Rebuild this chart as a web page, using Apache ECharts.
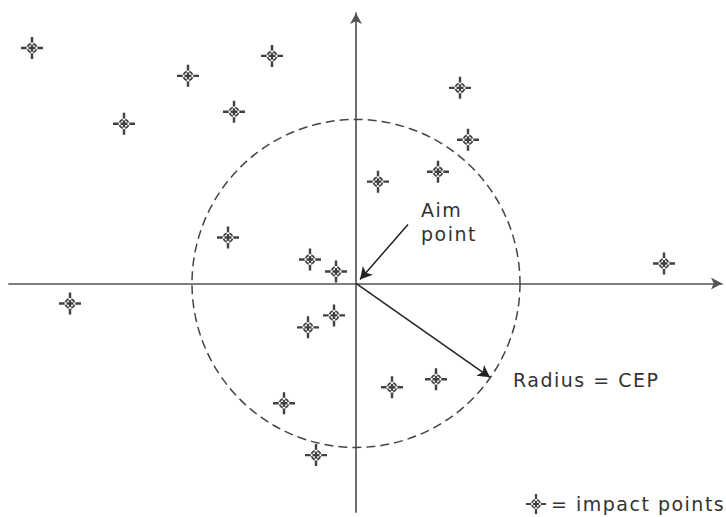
<!DOCTYPE html>
<html>
<head>
<meta charset="UTF-8">
<title>CEP</title>
<script src="https://cdn.jsdelivr.net/npm/echarts@6/dist/echarts.min.js"></script>
<style>
  html, body { margin: 0; padding: 0; background: #fff; }
  #main { width: 726px; height: 517px; }
  /* the original lettering is looser than DejaVu */
  #main text { letter-spacing: 1.5px; }
</style>
</head>
<body>
<div id="main"></div>
<script>
// impact points (arbitrary units, aim point at 0,0)
var impactX = [-81, -58, -42, -30.5, -21, 26, 28, 20.5, 5.5, -32, -11.5, -5, -5.5, -12, 77, 20, 9, -18, -10, -71.5];
var impactY = [59, 40, 52, 43, 57, 49, 36, 28, 25.5, 11.5, 6, 3, -8, -11, 5, -24, -26, -30, -43, -5];
var cep = 41;
// annotation arrows: [start, end]
var aimArrow = [[13, 14.75], [1, 1]];
var radiusArrow = [[0, 0], [33.5, -23.5]];
var notes = [[16.25, 15.4, 'Aim\npoint'], [39.25, -24.25, 'Radius = CEP']];

var xRange = [-86.75, 91.5];
var yRange = [-57.25, 67.75];

// crosshair + ring symbol
var crossPath = 'path://M0 8.9H20V11.1H0Z M8.9 0H11.1V20H8.9Z ' +
  'M14.9 10A4.9 4.9 0 1 0 5.1 10A4.9 4.9 0 1 0 14.9 10Z ' +
  'M13.2 10A3.2 3.2 0 1 1 6.8 10A3.2 3.2 0 1 1 13.2 10Z';

var pts = impactX.map(function (x, i) { return [x, impactY[i]]; });

var myChart = echarts.init(document.getElementById('main'), null, { renderer: 'svg' });
var axisStyle = {
  show: true,
  onZero: true,
  symbol: ['none', 'arrow'],
  symbolSize: [9, 11],
  lineStyle: { color: '#555', width: 1.7 }
};
var option = {
  backgroundColor: '#fff',
  animation: false,
  grid: { left: 9, right: 4, top: 13, bottom: 5 },
  xAxis: {
    type: 'value', min: xRange[0], max: xRange[1],
    axisLine: axisStyle,
    axisTick: { show: false }, axisLabel: { show: false }, splitLine: { show: false }
  },
  yAxis: {
    type: 'value', min: yRange[0], max: yRange[1],
    axisLine: axisStyle,
    axisTick: { show: false }, axisLabel: { show: false }, splitLine: { show: false }
  },
  legend: {
    left: 526, top: 494,
    padding: 0,
    icon: crossPath,
    itemWidth: 20, itemHeight: 20,
    data: ['impact points'],
    formatter: '= {name}',
    textStyle: { fontFamily: 'DejaVu Sans', fontSize: 19, color: '#333' }
  },
  series: [
    {
      name: 'circle',
      type: 'custom',
      silent: true,
      data: [[0, 0, cep]],
      renderItem: function (params, api) {
        var c = api.coord([api.value(0), api.value(1)]);
        var r = api.size([api.value(2), 0])[0];
        return {
          type: 'circle',
          shape: { cx: c[0], cy: c[1], r: r },
          style: { fill: 'none', stroke: '#444', lineWidth: 1.5, lineDash: [9, 5] }
        };
      },
      markLine: {
        silent: true,
        symbol: ['none', 'arrow'],
        symbolSize: [10, 12],
        label: { show: false },
        lineStyle: { color: '#222', width: 1.5, type: 'solid' },
        data: [
          [{ coord: aimArrow[0] }, { coord: aimArrow[1] }],
          [{ coord: radiusArrow[0] }, { coord: radiusArrow[1] }]
        ]
      }
    },
    {
      name: 'notes',
      type: 'custom',
      silent: true,
      data: notes,
      renderItem: function (params, api) {
        var c = api.coord([api.value(0), api.value(1)]);
        return {
          type: 'text',
          x: c[0], y: c[1],
          style: {
            text: notes[params.dataIndex][2],
            fontFamily: 'DejaVu Sans', fontSize: 19, lineHeight: 24,
            fill: '#333', align: 'left', verticalAlign: 'middle'
          }
        };
      }
    },
    {
      name: 'impact points',
      type: 'scatter',
      symbol: crossPath,
      symbolSize: 22,
      itemStyle: { color: '#111' },
      data: pts
    }
  ]
};
myChart.setOption(option);
</script>
</body>
</html>
